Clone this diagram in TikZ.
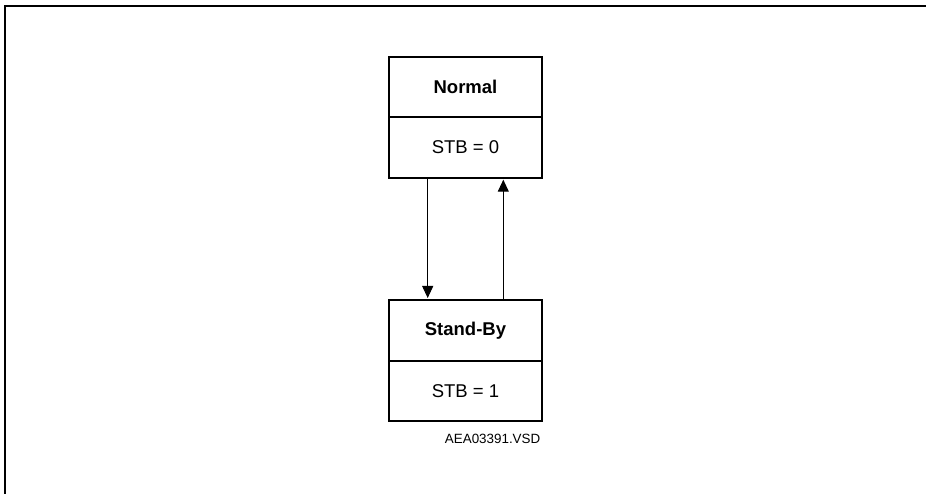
\documentclass[tikz,border=0pt]{standalone}
\usepackage{fontspec}
\setmainfont{Liberation Sans}
\usetikzlibrary{arrows.meta}
\begin{document}
\begin{tikzpicture}[x=1pt,y=-1pt,
  cell/.style={draw,line width=2pt,minimum width=152.4pt,inner sep=0pt,font=\fontsize{18.5pt}{22pt}\selectfont},
  arr/.style={line width=1pt,-{Triangle[width=11pt,length=12pt]},shorten >=1pt},
  frame/.style={line width=2pt}]
\useasboundingbox (0,0) rectangle (926,494);
\draw[frame] (4.5,494) -- (4.5,6.5) -- (926,6.5);
\node[cell,minimum height=60pt] (n1) at (465.5,86.7) {\textbf{Normal}};
\node[cell,minimum height=61pt] (n2) at (465.5,147.2) {STB = 0};
\node[cell,minimum height=60.7pt] (s1) at (465.5,330.35) {\textbf{Stand-By}};
\node[cell,minimum height=60.3pt] (s2) at (465.5,390.85) {STB = 1};
\node[anchor=east,inner sep=0pt,font=\fontsize{13.4pt}{16pt}\selectfont] (lbl) at (540.5,439.3) {AEA03391.VSD};
\draw[arr] ([xshift=-37.8pt]n2.south) -- ([xshift=-37.8pt]s1.north);
\draw[arr] ([xshift=37.8pt]s1.north) -- ([xshift=37.8pt]n2.south);
\end{tikzpicture}
\end{document}
